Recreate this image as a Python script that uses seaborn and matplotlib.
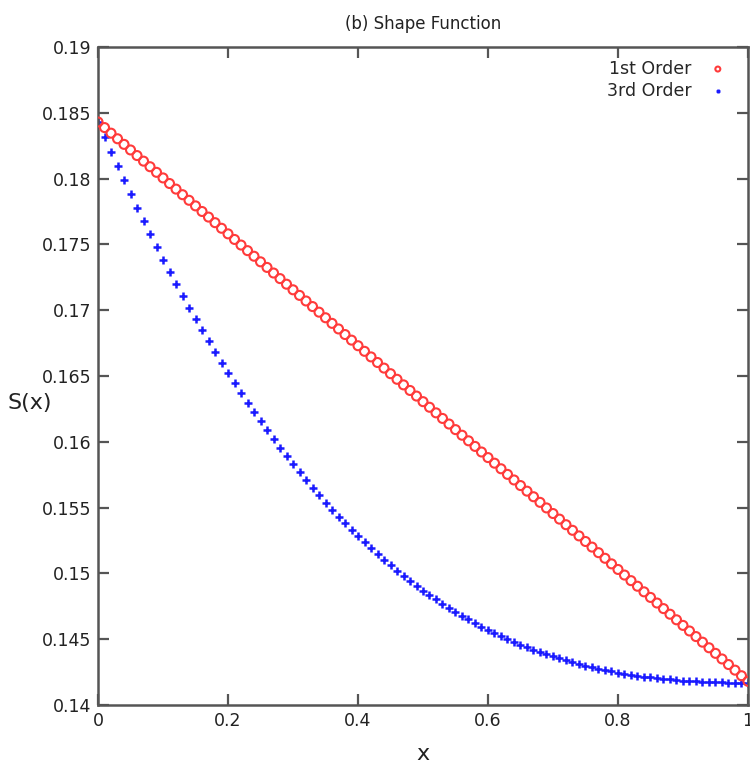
import matplotlib
matplotlib.use("Agg")
import matplotlib.pyplot as plt
import seaborn as sns
import pandas as pd

x_vals = [0.00, 0.01, 0.02, 0.03, 0.04, 0.05, 0.06, 0.07, 0.08, 0.09,
          0.10, 0.11, 0.12, 0.13, 0.14, 0.15, 0.16, 0.17, 0.18, 0.19,
          0.20, 0.21, 0.22, 0.23, 0.24, 0.25, 0.26, 0.27, 0.28, 0.29,
          0.30, 0.31, 0.32, 0.33, 0.34, 0.35, 0.36, 0.37, 0.38, 0.39,
          0.40, 0.41, 0.42, 0.43, 0.44, 0.45, 0.46, 0.47, 0.48, 0.49,
          0.50, 0.51, 0.52, 0.53, 0.54, 0.55, 0.56, 0.57, 0.58, 0.59,
          0.60, 0.61, 0.62, 0.63, 0.64, 0.65, 0.66, 0.67, 0.68, 0.69,
          0.70, 0.71, 0.72, 0.73, 0.74, 0.75, 0.76, 0.77, 0.78, 0.79,
          0.80, 0.81, 0.82, 0.83, 0.84, 0.85, 0.86, 0.87, 0.88, 0.89,
          0.90, 0.91, 0.92, 0.93, 0.94, 0.95, 0.96, 0.97, 0.98, 0.99,
          1.00]

first_order = [0.184300, 0.183875, 0.183450, 0.183025, 0.182600, 0.182175, 0.181750, 0.181325, 0.180900, 0.180475,
               0.180050, 0.179625, 0.179200, 0.178775, 0.178350, 0.177925, 0.177500, 0.177075, 0.176650, 0.176225,
               0.175800, 0.175375, 0.174950, 0.174525, 0.174100, 0.173675, 0.173250, 0.172825, 0.172400, 0.171975,
               0.171550, 0.171125, 0.170700, 0.170275, 0.169850, 0.169425, 0.169000, 0.168575, 0.168150, 0.167725,
               0.167300, 0.166875, 0.166450, 0.166025, 0.165600, 0.165175, 0.164750, 0.164325, 0.163900, 0.163475,
               0.163050, 0.162625, 0.162200, 0.161775, 0.161350, 0.160925, 0.160500, 0.160075, 0.159650, 0.159225,
               0.158800, 0.158375, 0.157950, 0.157525, 0.157100, 0.156675, 0.156250, 0.155825, 0.155400, 0.154975,
               0.154550, 0.154125, 0.153700, 0.153275, 0.152850, 0.152425, 0.152000, 0.151575, 0.151150, 0.150725,
               0.150300, 0.149875, 0.149450, 0.149025, 0.148600, 0.148175, 0.147750, 0.147325, 0.146900, 0.146475,
               0.146050, 0.145625, 0.145200, 0.144775, 0.144350, 0.143925, 0.143500, 0.143075, 0.142650, 0.142225,
               0.141800]

third_order = [0.18430, 0.18317, 0.18205, 0.18096, 0.17988, 0.17883, 0.17779, 0.17678, 0.17578, 0.17480,
               0.17384, 0.17290, 0.17198, 0.17107, 0.17018, 0.16931, 0.16846, 0.16763, 0.16681, 0.16601,
               0.16523, 0.16446, 0.16371, 0.16298, 0.16226, 0.16156, 0.16087, 0.16020, 0.15955, 0.15891,
               0.15828, 0.15767, 0.15708, 0.15650, 0.15593, 0.15538, 0.15484, 0.15432, 0.15381, 0.15331,
               0.15283, 0.15236, 0.15191, 0.15146, 0.15103, 0.15061, 0.15021, 0.14981, 0.14943, 0.14906,
               0.14870, 0.14835, 0.14802, 0.14769, 0.14738, 0.14707, 0.14678, 0.14650, 0.14623, 0.14596,
               0.14571, 0.14547, 0.14524, 0.14501, 0.14480, 0.14459, 0.14440, 0.14421, 0.14403, 0.14386,
               0.14369, 0.14354, 0.14339, 0.14325, 0.14312, 0.14299, 0.14288, 0.14276, 0.14266, 0.14256,
               0.14247, 0.14238, 0.14230, 0.14223, 0.14216, 0.14210, 0.14204, 0.14199, 0.14194, 0.14190,
               0.14186, 0.14183, 0.14180, 0.14178, 0.14175, 0.14174, 0.14172, 0.14171, 0.14171, 0.14170,
               0.14170]

x_ticks = [0, 0.2, 0.4, 0.6, 0.8, 1]
x_tick_labels = ["0", "0.2", "0.4", "0.6", "0.8", "1"]
y_ticks = [0.14, 0.145, 0.15, 0.155, 0.16, 0.165, 0.17, 0.175, 0.18, 0.185, 0.19]
y_tick_labels = ["0.14", "0.145", "0.15", "0.155", "0.16", "0.165", "0.17", "0.175", "0.18", "0.185", "0.19"]

df = pd.DataFrame({"x": x_vals, "first": first_order, "third": third_order})

sns.set_style("white")
plt.rcParams["font.family"] = ["DejaVu Sans"]

fig = plt.figure(figsize=(7.5, 7.7), dpi=100)
ax = fig.add_axes([0.1307, 0.0844, 0.8666, 0.8546])

sns.scatterplot(data=df, x="x", y="first", ax=ax, marker="o", s=42,
                facecolor="none", edgecolor="#ff3b3b", linewidth=1.5,
                label="1st Order", zorder=3)
sns.scatterplot(data=df, x="x", y="third", ax=ax, marker="+", s=34,
                color="#1a1aff", linewidth=1.8, label="3rd Order", zorder=2)

ax.set_xlim(0, 1)
ax.set_ylim(0.14, 0.19)
ax.set_xticks(x_ticks)
ax.set_xticklabels(x_tick_labels, fontsize=12.5, color="#222222")
ax.set_yticks(y_ticks)
ax.set_yticklabels(y_tick_labels, fontsize=12.5, color="#222222")

ax.tick_params(axis="both", direction="in", length=8, width=1.6, color="#555555",
               top=True, right=True, bottom=True, left=True, pad=5)

for sp in ax.spines.values():
    sp.set_visible(True)
    sp.set_color("#555555")
    sp.set_linewidth(1.8)

ax.set_xlabel("x", fontsize=16, color="#222222", labelpad=10)
ax.set_ylabel("S(x)", fontsize=16, color="#222222", rotation=0, labelpad=0)
ax.yaxis.set_label_coords(-0.105, 0.444)
ax.set_title("(b) Shape Function", fontsize=12, color="#222222", pad=13)

leg = ax.legend(loc="upper right", bbox_to_anchor=(0.983, 0.994), frameon=False,
                markerfirst=False, fontsize=12.5, handletextpad=0.9,
                labelspacing=0.25, borderaxespad=0.1, handlelength=1.2,
                markerscale=0.55)

fig.savefig("out.png", dpi=100)
